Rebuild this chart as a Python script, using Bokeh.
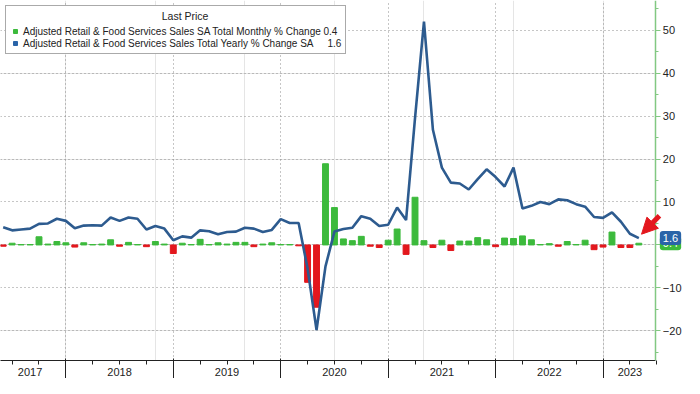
import pandas as pd
from bokeh.plotting import figure
from bokeh.models import (Range1d, FixedTicker, SingleIntervalTicker, ColumnDataSource,
                          Legend, LegendItem, Label, Arrow, NormalHead, LinearAxis,
                          Grid, BoxAnnotation)
from bokeh.embed import file_html
from bokeh.resources import INLINE

# ---------------- data ----------------
months = [str(p) for p in pd.period_range("2017-05", "2023-04", freq="M")]

yoy_change = [
    4.1, 3.4, 3.6, 3.8, 4.9, 5.0, 6.1, 5.6,                     # 2017 May-Dec
    3.9, 4.5, 4.6, 4.5, 6.4, 5.6, 6.4, 6.1, 3.6, 4.4, 3.8, 1.1,  # 2018
    2.0, 1.7, 3.4, 3.2, 2.5, 3.0, 3.1, 4.0, 3.8, 3.0, 3.5, 6.0,  # 2019
    5.1, 5.1, -5.5, -19.8, -5.0, 3.1, 3.7, 4.0, 6.7, 6.1, 4.4, 4.7,  # 2020
    8.7, 5.8, 29.5, 52.0, 26.8, 18.0, 14.5, 14.3, 12.9, 15.3, 17.6, 15.8,  # 2021
    13.6, 18.0, 8.5, 9.1, 10.0, 9.5, 10.6, 10.4, 9.5, 8.9, 6.5, 6.3,  # 2022
    7.6, 5.4, 2.6, 1.6,                                          # 2023
]

mom_change = [
    -0.3, 0.4, 0.1, 0.1, 1.9, 0.2, 0.8, 0.5,
    -0.5, 0.5, 0.1, 0.2, 1.2, -0.3, 0.6, 0.1, -0.4, 0.8, 0.2, -2.0,
    0.4, 0.1, 1.3, 0.1, 0.5, 0.2, 0.6, 0.6, -0.4, 0.2, 0.5, 0.1,
    0.1, -0.2, -8.7, -14.5, 18.9, 8.7, 1.4, 1.0, 2.0, -0.3, -0.6, 1.1,
    3.7, -2.2, 11.1, 1.0, -0.6, 1.1, -1.3, 0.9, 0.9, 1.7, 1.2, -0.4,
    1.6, 1.5, 2.1, 1.2, 0.1, 0.3, -0.3, 0.8, 0.1, 1.1, -1.1, -0.5,
    3.0, -0.6, -0.6, 0.4,
]

year_labels = ["2017", "2018", "2019", "2020", "2021", "2022", "2023"]
last_mom = "0.4"
last_yoy = "1.6"

mom_name = "Adjusted Retail & Food Services Sales SA Total Monthly % Change"
yoy_name = "Adjusted Retail & Food Services Sales Total Yearly % Change SA"

# ---------------- styling ----------------
GREEN = "#3cba3c"
RED = "#e3171d"
LINE = "#2d5b8f"
TAG_BLUE = "#2a64a8"
AXIS_GREEN = "#82c882"
GRID = "#8c8c8c"
FONT = "Liberation Sans"

def mpos(s):
    y, m = s.split("-")
    return (int(y) - 2018) * 12 + int(m)

xs = [mpos(m) for m in months]
colors = [GREEN if v >= 0 else RED for v in mom_change]
src = ColumnDataSource(dict(x=xs, mom=mom_change, yoy=yoy_change, color=colors))

x_lo, x_axis, x_hi = -7.3, 65.9, 69.1   # right value axis sits at x_axis
y_lo, y_hi = -26.9, 56.9

p = figure(width=684, height=378, output_backend="svg", toolbar_location=None,
           x_range=Range1d(x_lo, x_hi), y_range=Range1d(y_lo, y_hi),
           x_axis_location=None, y_axis_location=None, min_border=0,
           background_fill_color="white", border_fill_color="white")
p.outline_line_color = None

year_bounds = [0, 12, 24, 36, 48, 60]
p.add_layout(Grid(dimension=1, ticker=SingleIntervalTicker(interval=10),
                  grid_line_color=GRID, grid_line_dash="1 3"))
p.add_layout(Grid(dimension=0, ticker=FixedTicker(ticks=year_bounds),
                  grid_line_color=GRID, grid_line_dash="1 3"))
# blank strip right of the value axis (tick label area)
p.add_layout(BoxAnnotation(left=x_axis, fill_color="white", fill_alpha=1.0,
                           line_color=None, level="glyph"))

p.vbar(x="x", top="mom", width=0.66, bottom=0, color="color", source=src)
p.line(x="x", y="yoy", line_color=LINE, line_width=2.6, source=src)

# right value axis, fixed at x_axis
ya = LinearAxis(fixed_location=x_axis,
                ticker=SingleIntervalTicker(interval=10, num_minor_ticks=2),
                axis_line_color=AXIS_GREEN, axis_line_width=1.5,
                major_tick_line_color=AXIS_GREEN, minor_tick_line_color=AXIS_GREEN,
                major_tick_out=5, major_tick_in=0, minor_tick_out=3, minor_tick_in=0,
                major_label_text_font=FONT, major_label_text_font_size="11px",
                major_label_text_color="#222222", major_label_standoff=2)
p.add_layout(ya, "right")

# bottom: labels at mid-year + quarter ticks, then long year ticks pointing up
quarters = [q for q in range(-6, 67, 3) if q % 12 != 0]
label_pos = [-4, 6, 18, 30, 42, 54, 63]
lab_axis = LinearAxis(ticker=FixedTicker(ticks=label_pos, minor_ticks=quarters),
                      major_label_overrides=dict(zip(label_pos, year_labels)),
                      major_tick_out=0, major_tick_in=0, minor_tick_out=4, minor_tick_in=0,
                      axis_line_color="#222222", axis_line_width=1.2,
                      minor_tick_line_color="#222222",
                      major_label_standoff=3, major_label_text_font=FONT,
                      major_label_text_font_size="11px", major_label_text_color="#222222",
                      bounds=(x_lo, x_axis))
p.add_layout(lab_axis, "below")
tick_axis = LinearAxis(ticker=FixedTicker(ticks=year_bounds, minor_ticks=[]),
                       major_label_overrides={b: "" for b in year_bounds},
                       major_label_text_font_size="0px", major_label_standoff=-9,
                       major_tick_out=0, major_tick_in=20,
                       major_tick_line_color="#222222", axis_line_color=None,
                       bounds=(x_lo, x_axis))
p.add_layout(tick_axis, "below")

# legend
g_dummy = p.scatter(x=[-100], y=[-100], marker="square", size=11, color=GREEN)
b_dummy = p.scatter(x=[-100], y=[-100], marker="square", size=11, color=TAG_BLUE)
NB = "\u00a0"
legend = Legend(
    title=NB * 52 + "Last Price",
    items=[LegendItem(label=mom_name + NB + last_mom, renderers=[g_dummy]),
           LegendItem(label=yoy_name + NB * 5 + last_yoy, renderers=[b_dummy])],
    location="top_left", margin=5, padding=4, spacing=0,
    label_text_font=FONT, label_text_font_size="10px", label_text_color="#222222",
    title_text_font=FONT, title_text_font_size="10.5px", title_text_font_style="normal",
    title_text_color="#222222", title_standoff=3,
    glyph_width=10, glyph_height=10, label_height=12, label_standoff=3,
    border_line_color="#555555", border_line_width=1, background_fill_alpha=1.0)
p.add_layout(legend)

# last-value tags on the value axis
for val, txt, col in [(0.4, last_mom, GREEN), (1.6, last_yoy, TAG_BLUE)]:
    p.add_layout(Label(x=x_axis, y=val, x_offset=4, text=txt, text_align="left",
                       text_baseline="middle", text_font=FONT, text_font_size="11px",
                       text_color="white", background_fill_color=col,
                       padding=3, border_radius=3, level="overlay"))

# red arrow pointing at the latest point
p.add_layout(Arrow(end=NormalHead(size=16, fill_color=RED, line_color=RED),
                   x_start=66.3, y_start=6.8, x_end=64.3, y_end=2.5,
                   line_color=RED, line_width=5))

open("out.html", "w").write(file_html(p, INLINE))
